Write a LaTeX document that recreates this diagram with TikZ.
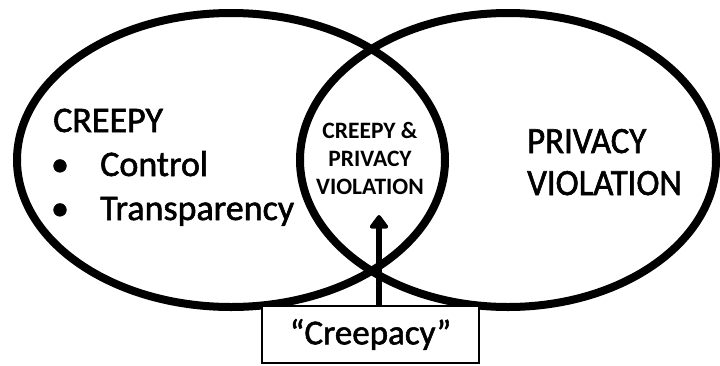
\documentclass[tikz,border=0pt]{standalone}
\usepackage{fontspec}
\setmainfont{Carlito}
\newfontfamily\heavyfont{Carlito}[FakeBold=1.6]
\newfontfamily\widerfont{Carlito}[FakeBold=1.6, FakeStretch=0.94]
\usetikzlibrary{arrows.meta}

\tikzset{
  setring/.style={draw=black, line width=8pt},
  bigtext/.style={anchor=base west, inner sep=0pt, font=\heavyfont\fontsize{36}{40}\selectfont},
  righttext/.style={anchor=base west, inner sep=0pt, font=\widerfont\fontsize{37}{40}\selectfont},
  dottext/.style={anchor=base, inner sep=0pt, font=\heavyfont\fontsize{36}{40}\selectfont},
  lenstext/.style={align=center, inner sep=0pt, font=\bfseries\fontsize{23.5}{28}\selectfont},
  labelbox/.style={draw=black, fill=white, line width=1.2pt, minimum width=217pt,
                   minimum height=57pt, inner sep=0pt, font=\heavyfont\fontsize{35}{40}\selectfont},
  pointer/.style={line width=6pt, -{Triangle[width=21pt,length=15pt,round]}}
}

\begin{document}
\begin{tikzpicture}[x=1pt, y=-1pt]
  \useasboundingbox (0,0) rectangle (720,365);

  % the two overlapping sets
  \draw[setring] (231,160) ellipse [x radius=214, y radius=147];
  \draw[setring] (508,160) ellipse [x radius=208, y radius=147];

  % left set: creepy
  \node[bigtext] (creepy) at (53,132) {CREEPY};
  \node[dottext] (dot1) at (60,176) {•};
  \node[bigtext] (control) at (100,176) {Control};
  \node[dottext] (dot2) at (60,220) {•};
  \node[bigtext] (transp) at (100,220) {Transparency};

  % right set: privacy violation
  \node[righttext] (privacy) at (527,153) {PRIVACY};
  \node[righttext] (violation) at (527,195) {VIOLATION};

  % intersection
  \node[lenstext] (both) at (370,158) {CREEPY \&\\PRIVACY\\VIOLATION};

  % label below, pointing into the intersection
  \node[labelbox] (creepacy) at (370.5,334.5) {“Creepacy”};
  \coordinate (tip) at (379,215);
  \draw[pointer] (creepacy.north -| tip) -- (tip);
\end{tikzpicture}
\end{document}
